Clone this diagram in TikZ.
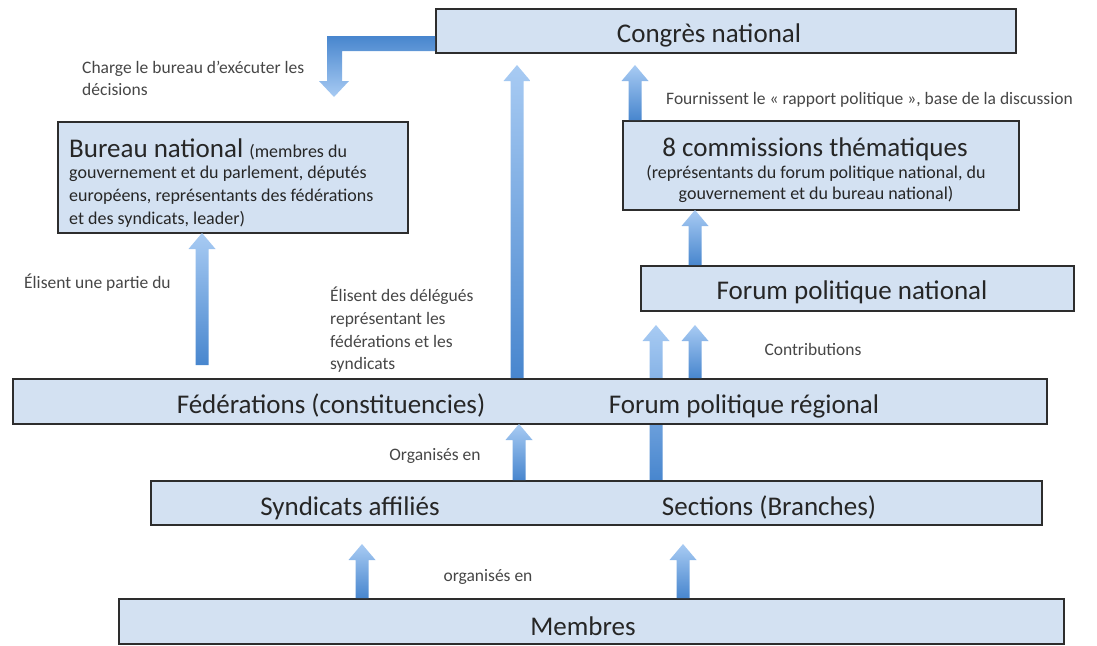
\documentclass[tikz,border=0pt]{standalone}
\usepackage{fontspec}
\setmainfont{Carlito}
\usetikzlibrary{calc,shadows}
\definecolor{boxfill}{RGB}{211,225,242}
\definecolor{boxline}{RGB}{45,45,45}
\definecolor{txt}{RGB}{38,38,38}
\definecolor{lblc}{RGB}{70,70,70}
\definecolor{arrlight}{RGB}{168,203,243}
\definecolor{arrdark}{RGB}{72,134,206}
\tikzset{
  box/.style={draw=boxline, line width=1.5pt, fill=boxfill, inner sep=0pt, anchor=north west,
    drop shadow={shadow xshift=0.8pt, shadow yshift=-1.6pt, opacity=0.45, fill=black!60}},
  title/.style={text=txt, font=\fontsize{27}{32}\selectfont, anchor=base, inner sep=0pt},
  sub/.style={text=txt, font=\fontsize{18}{22}\selectfont, anchor=base, inner sep=0pt},
  lbl/.style={text=lblc, font=\fontsize{17.5}{21}\selectfont, anchor=base west, inner sep=0pt},
  uparrowshade/.style={top color=arrlight, bottom color=arrdark, draw=none}
}
\newcommand\blockup[2]{%
  \shade[uparrowshade] let \p1=(#1), \p2=(#2) in
    ({\x1-6.5pt},\y1) -- ({\x1-6.5pt},{\y2-16pt}) -- ({\x1-13.5pt},{\y2-16pt}) -- (\x1,\y2)
    -- ({\x1+13.5pt},{\y2-16pt}) -- ({\x1+6.5pt},{\y2-16pt}) -- ({\x1+6.5pt},\y1) -- cycle;}
\begin{document}
\begin{tikzpicture}[x=1pt,y=-1pt]
\useasboundingbox (0,0) rectangle (1097,645);
% arrow coordinates
\coordinate (eS) at (656,480);
\coordinate (eT) at (656,325);
% long arrow Sections -> Forum politique national (behind the regional box)
\blockup{eS}{eT}
% boxes
\node[box, minimum width=580pt, minimum height=44pt] (congres) at (435,8) {};
\node[box, minimum width=350pt, minimum height=111pt] (bureau) at (57,121) {};
\node[box, minimum width=396pt, minimum height=89pt] (comm) at (622,120) {};
\node[box, minimum width=433pt, minimum height=45pt] (fpn) at (640,265) {};
\node[box, minimum width=1034pt, minimum height=45pt] (fed) at (12,378) {};
\node[box, minimum width=891pt, minimum height=44pt] (synd) at (150,480) {};
\node[box, minimum width=945pt, minimum height=45pt] (membres) at (118,598) {};
% box texts
\node[title] (tcongres) at (709,42) {Congrès national};
\node[anchor=base west, inner sep=0pt, text=txt] (tbureau1) at (69,157)
  {\fontsize{27}{32}\selectfont Bureau national \fontsize{18}{22}\selectfont(membres du};
\node[sub, anchor=base west] (tbureau2) at (69,178) {gouvernement et du parlement, députés};
\node[sub, anchor=base west] (tbureau3) at (69,201) {européens, représentants des fédérations};
\node[sub, anchor=base west] (tbureau4) at (69,224) {et des syndicats, leader)};
\node[title] (tcomm1) at (815,156) {8 commissions thématiques};
\node[sub] (tcomm2) at (816,178) {(représentants du forum politique national, du};
\node[sub] (tcomm3) at (816,199) {gouvernement et du bureau national)};
\node[title] (tfpn) at (852,299) {Forum politique national};
\node[title] (tfed) at (331,413) {Fédérations (constituencies)};
\node[title] (tfpr) at (744,413) {Forum politique régional};
\node[title] (tsynd) at (350,515) {Syndicats affiliés};
\node[title] (tsect) at (769,515) {Sections (Branches)};
\node[title] (tmembres) at (583,635) {Membres};
% connector coordinates
\coordinate (aS) at (202,365);  \coordinate (aT) at (202,233);
\coordinate (bS) at (517,378);  \coordinate (bT) at (517,65);
\coordinate (cS) at (635,120);  \coordinate (cT) at (635,65);
\coordinate (dS) at (695,265);  \coordinate (dT) at (695,210);
\coordinate (fS) at (695,378);  \coordinate (fT) at (695,325);
\coordinate (gS) at (519,480);  \coordinate (gT) at (519,424);
\coordinate (hS) at (362,598);  \coordinate (hT) at (362,544);
\coordinate (iS) at (683,598);  \coordinate (iT) at (683,544);
\coordinate (bentT) at (334,97);
% bent arrow: Congres -> Bureau
\shade[top color=arrdark, bottom color=arrlight]
  (congres.west |- 0,36) -- (327,36) -- (327,81) -- (319,81) -- (bentT) -- (349,81)
  -- (342,81) -- (342,51) -- (congres.west |- 0,51) -- cycle;
\blockup{aS}{aT}
\blockup{bS}{bT}
\blockup{cS}{cT}
\blockup{dS}{dT}
\blockup{fS}{fT}
\blockup{gS}{gT}
\blockup{hS}{hT}
\blockup{iS}{iT}
% labels
\node[lbl] (l1a) at (82,73) {Charge le bureau d’exécuter les};
\node[lbl] (l1b) at (82,95) {décisions};
\node[lbl] (l2) at (666,104) {Fournissent le « rapport politique », base de la discussion};
\node[lbl] (l3) at (24,288) {Élisent une partie du};
\node[lbl] (l4a) at (330,301) {Élisent des délégués};
\node[lbl] (l4b) at (330,324) {représentant les};
\node[lbl] (l4c) at (330,347) {fédérations et les};
\node[lbl] (l4d) at (330,369) {syndicats};
\node[lbl, anchor=base] (l5) at (813,355) {Contributions};
\node[lbl, anchor=base] (l6) at (435,460) {Organisés en};
\node[lbl, anchor=base] (l7) at (488,581) {organisés en};
\end{tikzpicture}
\end{document}
